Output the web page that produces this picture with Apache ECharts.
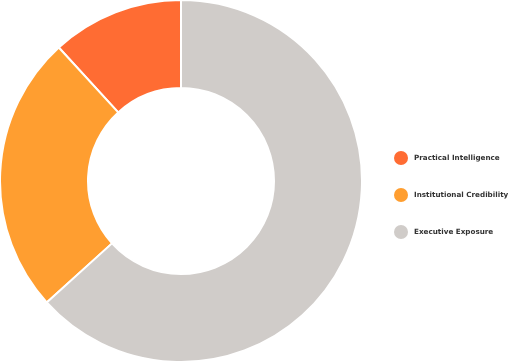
<!DOCTYPE html>
<html><head><meta charset="utf-8">
<script src="https://cdn.jsdelivr.net/npm/echarts@6/dist/echarts.min.js"></script>
<style>html,body{margin:0;padding:0;background:#fff}#c{width:509px;height:362px}</style>
</head><body><div id="c"></div>
<script>
const categories = ["Practical Intelligence", "Institutional Credibility", "Executive Exposure"];
const values = [11.8, 24.9, 63.3];
const colors = ["#FF6C33", "#FF9E30", "#D0CCC9"];

const chart = echarts.init(document.getElementById('c'), null, {renderer: 'canvas'});
chart.setOption({
  animation: false,
  legend: {
    orient: 'vertical',
    left: 394,
    top: 151,
    icon: 'circle',
    itemWidth: 14,
    itemHeight: 14,
    itemGap: 23,
    padding: 0,
    itemStyle: {borderWidth: 0},
    data: categories,
    textStyle: {fontFamily: 'DejaVu Sans', fontSize: 7.2, fontWeight: 'bold', color: '#333', padding: [0, 0, 0, 1]}
  },
  series: [{
    type: 'pie',
    center: [181, 181],
    radius: [93, 181],
    startAngle: 90,
    clockwise: false,
    label: {show: false},
    labelLine: {show: false},
    itemStyle: {borderColor: '#fff', borderWidth: 2},
    data: categories.map((n, i) => ({name: n, value: values[i], itemStyle: {color: colors[i]}}))
  }]
});
</script></body></html>
